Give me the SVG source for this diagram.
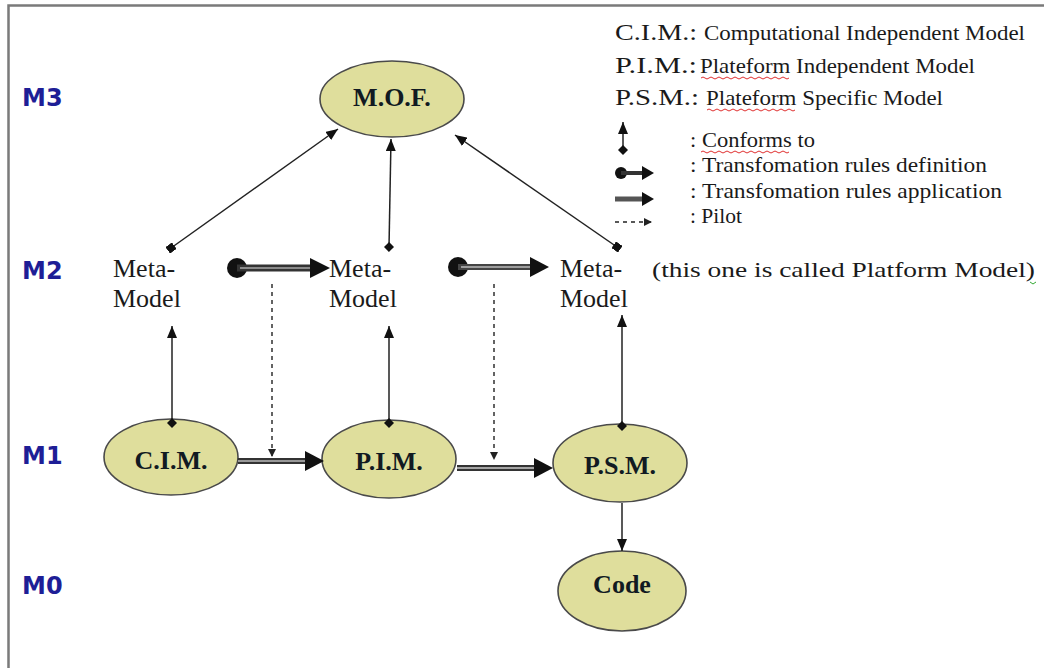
<svg xmlns="http://www.w3.org/2000/svg" width="1044" height="668" viewBox="0 0 1044 668">
<defs>
<style>
.node ellipse{fill:#dfde9c;stroke:#4a4a4a;stroke-width:1.6}
.nt{font-family:"Liberation Serif",serif;font-weight:bold;font-size:26px;fill:#111a22;text-anchor:middle}
.lvl{font-family:"DejaVu Sans",sans-serif;font-weight:bold;font-size:24px;fill:#1e1e96}
.mm{font-family:"Liberation Serif",serif;font-size:26px;fill:#1a1a1a}
.lg{font-family:"Liberation Serif",serif;font-size:21px;fill:#1a1a1a}
.lgb{font-family:"Liberation Serif",serif;font-size:24px;fill:#1a1a1a}
.conf{stroke:#222;stroke-width:1.5;fill:none}
.pilot{stroke:#222;stroke-width:1.4;stroke-dasharray:4 4;fill:none}
.squig{stroke:#e03030;stroke-width:1;fill:none}
</style>
<marker id="arr" viewBox="0 0 12 10" refX="12" refY="5" markerWidth="12" markerHeight="10" markerUnits="userSpaceOnUse" orient="auto"><path d="M0,0 L12,5 L0,10 z" fill="#111"/></marker>
<marker id="dia" viewBox="0 0 10 10" refX="5" refY="5" markerWidth="10" markerHeight="10" markerUnits="userSpaceOnUse" orient="auto"><path d="M0,5 L5,0 L10,5 L5,10 z" fill="#111"/></marker>
<marker id="sq" viewBox="0 0 8 8" refX="4" refY="4" markerWidth="8" markerHeight="8" markerUnits="userSpaceOnUse" orient="auto"><rect width="8" height="8" fill="#111"/></marker>
<marker id="parr" viewBox="0 0 8 8" refX="8" refY="4" markerWidth="8" markerHeight="8" markerUnits="userSpaceOnUse" orient="auto"><path d="M0,0 L8,4 L0,8 z" fill="#222"/></marker>
</defs>
<rect width="1044" height="668" fill="#fff"/>
<path d="M8.5,668 V5.5 H1044" fill="none" stroke="#7a7a7a" stroke-width="2.5"/>

<g id="levels">
<text class="lvl" x="22" y="106">M3</text>
<text class="lvl" x="22" y="279">M2</text>
<text class="lvl" x="22" y="464">M1</text>
<text class="lvl" x="22" y="594">M0</text>
</g>

<g id="mof" class="node"><ellipse cx="392" cy="99" rx="72" ry="38"/><text class="nt" x="392" y="106">M.O.F.</text></g>
<g id="mm1"><text class="mm" x="113" y="277">Meta-</text><text class="mm" x="113" y="307">Model</text></g>
<g id="mm2"><text class="mm" x="329" y="277">Meta-</text><text class="mm" x="329" y="307">Model</text></g>
<g id="mm3"><text class="mm" x="560" y="277">Meta-</text><text class="mm" x="560" y="307">Model</text></g>
<g id="platform-note"><text class="lg" x="652" y="277" textLength="383" lengthAdjust="spacingAndGlyphs">(this one is called Platform Model)</text><path d="M1030,282 l3,2 l3,-2" stroke="#3a3" stroke-width="1" fill="none"/></g>
<g id="cim" class="node"><ellipse cx="171" cy="457" rx="67" ry="38"/><text class="nt" x="171" y="469">C.I.M.</text></g>
<g id="pim" class="node"><ellipse cx="389" cy="459" rx="67" ry="39"/><text class="nt" x="389" y="470">P.I.M.</text></g>
<g id="psm" class="node"><ellipse cx="620" cy="463" rx="67" ry="39"/><text class="nt" x="620" y="474">P.S.M.</text></g>
<g id="code" class="node"><ellipse cx="622" cy="591" rx="64" ry="40"/><text class="nt" x="622" y="593">Code</text></g>

<g id="connectors">
<line class="conf" x1="172" y1="423" x2="172" y2="326" marker-start="url(#dia)" marker-end="url(#arr)"/>
<line class="conf" x1="389" y1="423" x2="389" y2="326" marker-start="url(#dia)" marker-end="url(#arr)"/>
<line class="conf" x1="622" y1="426" x2="622" y2="315" marker-start="url(#dia)" marker-end="url(#arr)"/>
<line class="conf" x1="171" y1="248" x2="338" y2="129" marker-start="url(#sq)" marker-end="url(#arr)"/>
<line class="conf" x1="389" y1="247" x2="391" y2="139" marker-start="url(#dia)" marker-end="url(#arr)"/>
<line class="conf" x1="617" y1="247" x2="455" y2="135" marker-start="url(#sq)" marker-end="url(#arr)"/>
<line class="conf" x1="622" y1="503" x2="622" y2="551" marker-end="url(#arr)"/>
<circle cx="237" cy="268" r="10" fill="#111"/>
<line x1="237" y1="268" x2="312" y2="268" stroke="#333" stroke-width="7"/>
<line x1="240" y1="268" x2="312" y2="268" stroke="#8a8a8a" stroke-width="2"/>
<path d="M310,258 L330,268 L310,278 z" fill="#111"/>
<circle cx="458" cy="267" r="10" fill="#111"/>
<line x1="458" y1="267" x2="532" y2="267" stroke="#444" stroke-width="6"/>
<line x1="461" y1="267" x2="532" y2="267" stroke="#bbb" stroke-width="1.5"/>
<path d="M530,257 L549,267 L530,277 z" fill="#111"/>
<line x1="238" y1="461" x2="307" y2="461" stroke="#333" stroke-width="6"/>
<line x1="238" y1="461" x2="307" y2="461" stroke="#bbb" stroke-width="1.6"/>
<path d="M305,451 L324,461 L305,471 z" fill="#111"/>
<line x1="457" y1="468" x2="536" y2="468" stroke="#333" stroke-width="6"/>
<line x1="457" y1="468" x2="536" y2="468" stroke="#ccc" stroke-width="1.6"/>
<path d="M534,458 L553,468 L534,478 z" fill="#111"/>
<line class="pilot" x1="272" y1="284" x2="272" y2="457" marker-end="url(#parr)"/>
<line class="pilot" x1="494" y1="284" x2="494" y2="460" marker-end="url(#parr)"/>
</g>

<g id="legend">
<text class="lgb" x="615" y="40" textLength="82" lengthAdjust="spacingAndGlyphs">C.I.M.:</text>
<text class="lg" x="704" y="40" textLength="321" lengthAdjust="spacingAndGlyphs">Computational Independent Model</text>
<text class="lgb" x="615" y="73" textLength="82" lengthAdjust="spacingAndGlyphs">P.I.M.:</text>
<text class="lg" x="700" y="73" textLength="275" lengthAdjust="spacingAndGlyphs">Plateform Independent Model</text>
<text class="lgb" x="615" y="105" textLength="84" lengthAdjust="spacingAndGlyphs">P.S.M.:</text>
<text class="lg" x="706" y="105" textLength="237" lengthAdjust="spacingAndGlyphs">Plateform Specific Model</text>
<path class="squig" d="M701,78 q2,-2 4,0 t4,0 t4,0 t4,0 t4,0 t4,0 t4,0 t4,0 t4,0 t4,0 t4,0 t4,0 t4,0 t4,0 t4,0 t4,0 t4,0 t4,0 t4,0 t4,0 t4,0 t4,0"/>
<path class="squig" d="M707,110 q2,-2 4,0 t4,0 t4,0 t4,0 t4,0 t4,0 t4,0 t4,0 t4,0 t4,0 t4,0 t4,0 t4,0 t4,0 t4,0 t4,0 t4,0 t4,0 t4,0 t4,0 t4,0 t4,0"/>
<path class="squig" d="M701,152 q2,-2 4,0 t4,0 t4,0 t4,0 t4,0 t4,0 t4,0 t4,0 t4,0 t4,0 t4,0 t4,0 t4,0 t4,0 t4,0 t4,0 t4,0 t4,0 t4,0 t4,0 t4,0 t4,0"/>
<line class="conf" x1="623" y1="150" x2="623" y2="122" marker-start="url(#dia)" marker-end="url(#arr)"/>
<circle cx="621" cy="173" r="6" fill="#111"/>
<line x1="621" y1="173" x2="643" y2="173" stroke="#333" stroke-width="4"/>
<path d="M642,166 L654,173 L642,180 z" fill="#111"/>
<line x1="615" y1="199" x2="643" y2="199" stroke="#555" stroke-width="5"/>
<path d="M642,192 L654,199 L642,206 z" fill="#111"/>
<line class="pilot" x1="615" y1="222" x2="652" y2="222" marker-end="url(#parr)"/>
<text class="lg" x="690" y="147" textLength="125" lengthAdjust="spacingAndGlyphs">: Conforms to</text>
<text class="lg" x="690" y="172" textLength="297" lengthAdjust="spacingAndGlyphs">: Transfomation rules definition</text>
<text class="lg" x="690" y="198" textLength="312" lengthAdjust="spacingAndGlyphs">: Transfomation rules application</text>
<text class="lg" x="690" y="223" textLength="52" lengthAdjust="spacingAndGlyphs">: Pilot</text>
</g>
</svg>
